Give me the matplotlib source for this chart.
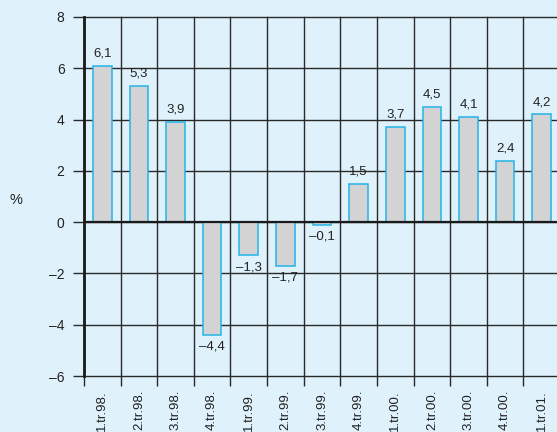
import matplotlib
matplotlib.use("Agg")
import matplotlib.pyplot as plt
import numpy as np

categories = ["1.tr.98.", "2.tr.98.", "3.tr.98.", "4.tr.98.", "1.tr.99.", "2.tr.99.",
              "3.tr.99.", "4.tr.99.", "1.tr.00.", "2.tr.00.", "3.tr.00.", "4.tr.00.", "1.tr.01."]
values = [6.1, 5.3, 3.9, -4.4, -1.3, -1.7, -0.1, 1.5, 3.7, 4.5, 4.1, 2.4, 4.2]
yticks = [-6, -4, -2, 0, 2, 4, 6, 8]

plt.rcParams['font.family'] = ['Liberation Sans', 'DejaVu Sans']
bg = '#dff1fb'
fig = plt.figure(figsize=(5.57, 4.32), dpi=100, facecolor=bg)
ax = fig.add_axes([84/557, 56/432, 476/557, 359/432])
ax.set_facecolor(bg)

n = len(categories)
x = np.arange(n)
ax.bar(x, values, width=0.51, color='#d3d3d3', edgecolor='#22b4ea', linewidth=1.1, zorder=3)

ax.set_xlim(-0.5, n - 0.5)
ax.set_ylim(-6, 8)

# grid
for b in np.arange(-0.5, n, 1.0):
    ax.axvline(b, color='#2a2a2a', lw=1.0, zorder=1, clip_on=False)
for t in yticks:
    ax.axhline(t, color='#2a2a2a', lw=1.0, zorder=1, clip_on=False)
ax.axhline(0, color='#1a1a1a', lw=1.6, zorder=4)
ax.axvline(-0.5, color='#1a1a1a', lw=2.0, zorder=4, clip_on=False)

for s in ax.spines.values():
    s.set_visible(False)

ax.set_yticks(yticks)
ax.set_yticklabels([("\u2013" + str(abs(t))) if t < 0 else str(t) for t in yticks], fontsize=10, color='#222222')
ax.tick_params(axis='y', length=8, width=1.0, color='#2a2a2a', pad=6)

ax.set_xticks(np.arange(-0.5, n, 1.0))
ax.set_xticklabels([])
ax.tick_params(axis='x', length=7, width=1.0, color='#2a2a2a')

for i, c in enumerate(categories):
    ax.text(i, -6.55, c, rotation=90, ha='center', va='top', fontsize=9.5, color='#222222', clip_on=False)

for i, v in enumerate(values):
    s = f"{abs(v):.1f}".replace('.', ',')
    if v < 0:
        s = "\u2013" + s
        ax.text(i, v - 0.22, s, ha='center', va='top', fontsize=9.5, color='#222222', zorder=5)
    else:
        ax.text(i, v + 0.25, s, ha='center', va='bottom', fontsize=9.5, color='#222222', zorder=5)

fig.text(9/557, 1 - 200/432, "%", ha='left', va='center', fontsize=10.5, color='#222222')

fig.savefig("out.png", dpi=100, facecolor=bg)
